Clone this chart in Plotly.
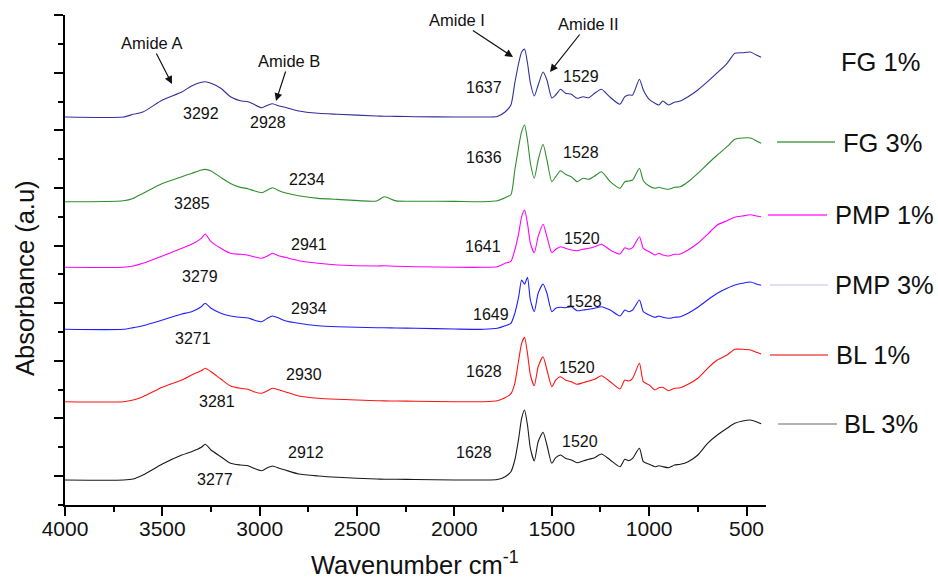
import plotly.graph_objects as go

# Wavenumber grid (cm-1)
wavenumber = [4000, 3700, 3650, 3600, 3500, 3400, 3350, 3300, 3280, 3250,
              3200, 3150, 3100, 3060, 3030, 2990, 2960, 2935, 2900, 2870,
              2800, 2700, 2600, 2400, 2360, 2300, 2200, 2000, 1850, 1780,
              1740, 1710, 1690, 1670, 1655, 1640, 1625, 1610, 1590, 1570,
              1545, 1525, 1500, 1480, 1455, 1430, 1400, 1370, 1340, 1310,
              1280, 1245, 1200, 1150, 1125, 1105, 1085, 1050, 1030, 1000,
              970, 950, 930, 900, 870, 840, 800, 750, 700, 650,
              600, 560, 520, 480, 450, 425]

# Absorbance profiles (a.u., relative to each spectrum's own baseline)
fg1 = [0, 0, 2.7, 5, 17, 25, 31, 34.7, 35.3, 33.7,
       28.7, 20.3, 16.3, 15.3, 12.7, 9.3, 11.7, 13.3, 11, 9.7,
       6, 3.7, 2.7, 1, 0.8, 0.6, 0.3, 0, 0, 0.5,
       5, 12, 34, 54, 65, 68, 54, 34, 21, 32,
       45, 37, 19, 22, 27.7, 23.7, 22.7, 18.7, 20.3, 19.3,
       23.7, 27.7, 19.7, 12.7, 20.3, 22, 22, 37.7, 27, 17.7,
       13.7, 12, 16, 12, 14.7, 16, 20.3, 27, 35.3, 44.3,
       53.7, 63.7, 64.3, 65, 62, 59.7]
fg3 = [0, 1, 3.3, 8.3, 18.3, 25, 28.3, 31.7, 32.3, 30.7,
       24.3, 18.3, 14.3, 13, 11, 9, 11.7, 14, 11, 9,
       6, 3.3, 2.3, 0.7, 5, 0.8, 0.5, 0.3, 0, 1,
       4, 7, 31.7, 55, 70, 76.7, 61.7, 38.7, 23.4, 41.7,
       57.4, 41.7, 20, 25, 31, 27.4, 25, 20, 23.4, 22.4,
       25.7, 30, 20, 13.4, 20, 20.7, 21.7, 33.4, 21, 15.7,
       13.4, 14.4, 13.4, 12.4, 14.4, 15, 20, 28.4, 37.7, 46.7,
       55, 62.4, 63.7, 63.7, 61, 58.4]
pmp1 = [0, 0, 1.3, 4, 11.3, 19, 23, 29, 33.3, 25.6,
        19, 14, 13, 12, 10.6, 9, 11.3, 14, 11.3, 10,
        6.6, 4, 2.3, 1.3, 1.5, 1, 0.6, 0, 0, 0.6,
        4, 6, 17.3, 34, 50.6, 57.3, 44, 24, 14.6, 30.6,
        43, 30.6, 14.6, 18, 20.6, 19, 17.3, 16.6, 18, 19,
        20.6, 23, 17.3, 13.3, 19.6, 18, 19.6, 30.6, 19, 15.6,
        12.3, 14, 12.3, 11.3, 13, 13.3, 17.3, 24, 33, 42.3,
        46.6, 50, 51.3, 52.6, 51.3, 50.6]
pmp3 = [0, 0, 1.7, 3.6, 9.3, 15.3, 17.6, 22.6, 26, 21,
        16, 13.3, 12, 11.3, 9.3, 7.6, 11, 13.3, 11, 8.6,
        6, 3.6, 2.6, 1.6, 1.5, 1.3, 1, 0.3, 0, 1,
        3.5, 6, 16, 32.6, 49.3, 45, 52, 29.3, 17.6, 36,
        45.3, 36, 17.6, 21, 22, 21.6, 22.6, 18.6, 19.3, 20,
        21, 22.6, 19.3, 13.3, 19.3, 17.6, 19.3, 29.3, 17.6, 14.3,
        12, 13.3, 12, 11, 12, 12.6, 16, 22, 29.3, 36,
        41, 44.3, 46, 47.3, 45.3, 44]
bl1 = [0, 0, 1.7, 5, 14.4, 21.7, 26.7, 31, 33.4, 30,
       22.7, 15.7, 13.4, 12.4, 10, 8.4, 11, 13.4, 11.7, 10,
       5.7, 3.4, 2.4, 1, 0.8, 0.7, 0.5, 0, 0, 1,
       4, 8, 18.4, 41.7, 58.4, 64.4, 48.4, 26.7, 16, 35,
       45, 31.7, 15, 21.7, 25, 21.7, 20, 17.4, 19, 20.7,
       22.4, 26, 20, 12.7, 21.7, 20.7, 23.4, 38.4, 20, 16.7,
       11.7, 14, 14.4, 11, 13.4, 14, 17.4, 23.4, 33.4, 41.7,
       46.7, 52.4, 52.4, 51.7, 49.4, 47.7]
bl3 = [0, 0, 1, 5, 16, 25, 28.3, 32.7, 35.7, 30,
       23.3, 16.7, 15, 14.3, 11.7, 9.3, 12.3, 14, 11.7, 10,
       6, 4, 2.7, 1, 0.8, 0.7, 0.5, 0, 0, 0.5,
       3.3, 8.3, 20, 41.7, 61.7, 70, 55, 31.7, 19, 38.3,
       47.7, 35, 16.7, 22.3, 25, 21.7, 20, 17.3, 19, 20.7,
       22.3, 26, 20, 13.3, 20.7, 19.3, 21.7, 31.7, 18.3, 15.7,
       13.3, 14.3, 13.3, 12.3, 15, 15.7, 18.3, 25, 36.7, 45,
       51.7, 56.7, 59, 60, 58.3, 56.3]

series_names = ["FG 1%", "FG 3%", "PMP 1%", "PMP 3%", "BL 1%", "BL 3%"]
series_values = [fg1, fg3, pmp1, pmp3, bl1, bl3]
stack_offsets = [359, 274.3, 208.7, 146.7, 74.3, -4]
series_colors = ["#30309a", "#2e8e2e", "#ff00ff", "#1f1fff", "#ff1414", "#1a1a1a"]
legend_line_colors = [None, "#4f9f4f", "#ff33ff", "#d4d4f6", "#f05252", "#9a9a9a"]

x_ticks = [4000, 3500, 3000, 2500, 2000, 1500, 1000, 500]

# peak labels: (text, px x, px y)
peak_labels = [
    ("3292", 201, 114), ("2928", 268, 123), ("1637", 484, 87), ("1529", 581, 77),
    ("3285", 192, 204), ("2234", 307, 179), ("1636", 484, 157), ("1528", 581, 152),
    ("3279", 200, 276), ("2941", 309, 244), ("1641", 483, 246), ("1520", 582, 238),
    ("3271", 193, 339), ("2934", 309, 308), ("1649", 491, 314), ("1528", 584, 301),
    ("3281", 217, 401), ("2930", 304, 375), ("1628", 484, 371), ("1520", 577, 367),
    ("3277", 215, 479), ("2912", 306, 452), ("1628", 474, 452), ("1520", 580, 441),
]
# band labels with arrow heads: (text, text px x, text px y, head px x, head px y)
band_labels = [("Amide A", 151, 43, 172, 84), ("Amide B", 289, 61, 276, 101),
               ("Amide I", 457, 20, 513, 57), ("Amide II", 588, 24, 550, 72)]
legend_text_pos = [(880, 62), (882, 143), (884, 215), (884, 285), (873, 355), (881, 424)]
legend_line_pos = [None, (777, 835, 142), (768, 827, 215), (770, 828, 285), (770, 828, 355), (778, 837, 424)]

W, H = 938, 579
L, R, T, B = 65, 766, 15, 505

def px(x):
    return (x - L) / (R - L)

def py(y):
    return (B - y) / (B - T)

FONT = "Arial, 'Liberation Sans', sans-serif"

fig = go.Figure()
for name, vals, off, col in zip(series_names, series_values, stack_offsets, series_colors):
    fig.add_trace(go.Scatter(
        x=wavenumber, y=[v + off for v in vals], mode="lines", name=name,
        line=dict(color=col, width=1.1, shape="spline", smoothing=0.6),
        showlegend=False, hoverinfo="skip"))

ann = []
for t, x, y in peak_labels:
    ann.append(dict(text=t, x=px(x), y=py(y), xref="paper", yref="paper", showarrow=False,
                    xanchor="center", yanchor="middle", font=dict(size=16, color="#111", family=FONT)))
for t, x, y, hx, hy in band_labels:
    ann.append(dict(text=t, x=px(hx), y=py(hy), xref="paper", yref="paper", showarrow=True,
                    ax=x - hx, ay=y - hy, arrowhead=2, arrowsize=1.3, arrowwidth=1.2,
                    arrowcolor="#111", standoff=0,
                    font=dict(size=16.5, color="#111", family=FONT)))
for name, (x, y) in zip(series_names, legend_text_pos):
    ann.append(dict(text=name, x=px(x), y=py(y), xref="paper", yref="paper", showarrow=False,
                    xanchor="center", yanchor="middle", font=dict(size=25.5, color="#111", family=FONT)))
ann.append(dict(text="Wavenumber cm<sup>-1</sup>", x=px(415), y=py(563), xref="paper", yref="paper",
                showarrow=False, xanchor="center", yanchor="middle",
                font=dict(size=25.5, color="#111", family=FONT)))
ann.append(dict(text="Absorbance (a.u)", x=px(25), y=py(278), xref="paper", yref="paper",
                showarrow=False, xanchor="center", yanchor="middle", textangle=-90,
                font=dict(size=25.5, color="#111", family=FONT)))

shapes = []
for pos, col in zip(legend_line_pos, legend_line_colors):
    if pos is None:
        continue
    x0, x1, y = pos
    shapes.append(dict(type="line", xref="paper", yref="paper", x0=px(x0), x1=px(x1),
                       y0=py(y), y1=py(y), line=dict(color=col, width=1.5)))

fig.update_layout(
    width=W, height=H, margin=dict(l=L, r=W - R, t=T, b=H - B),
    paper_bgcolor="white", plot_bgcolor="white",
    annotations=ann, shapes=shapes, showlegend=False,
    xaxis=dict(range=[4000, 400], tickvals=x_ticks, ticktext=[str(v) for v in x_ticks],
               showgrid=False, zeroline=False, showline=True, linecolor="black", linewidth=2,
               ticks="outside", ticklen=9, tickwidth=1.5, tickcolor="black",
               minor=dict(dtick=250, tick0=0, ticks="outside", ticklen=5, tickwidth=1.5, tickcolor="black"),
               tickfont=dict(size=21, color="#111", family=FONT), ticklabelstandoff=-5),
    yaxis=dict(range=[-29, 461], tick0=0, dtick=57.6, showticklabels=False,
               showgrid=False, zeroline=False, showline=True, linecolor="black", linewidth=2,
               ticks="outside", ticklen=9, tickwidth=1.5, tickcolor="black",
               minor=dict(dtick=28.8, tick0=-28.8, ticks="outside", ticklen=5, tickwidth=1.5, tickcolor="black")),
)

fig.write_html("out.html")
